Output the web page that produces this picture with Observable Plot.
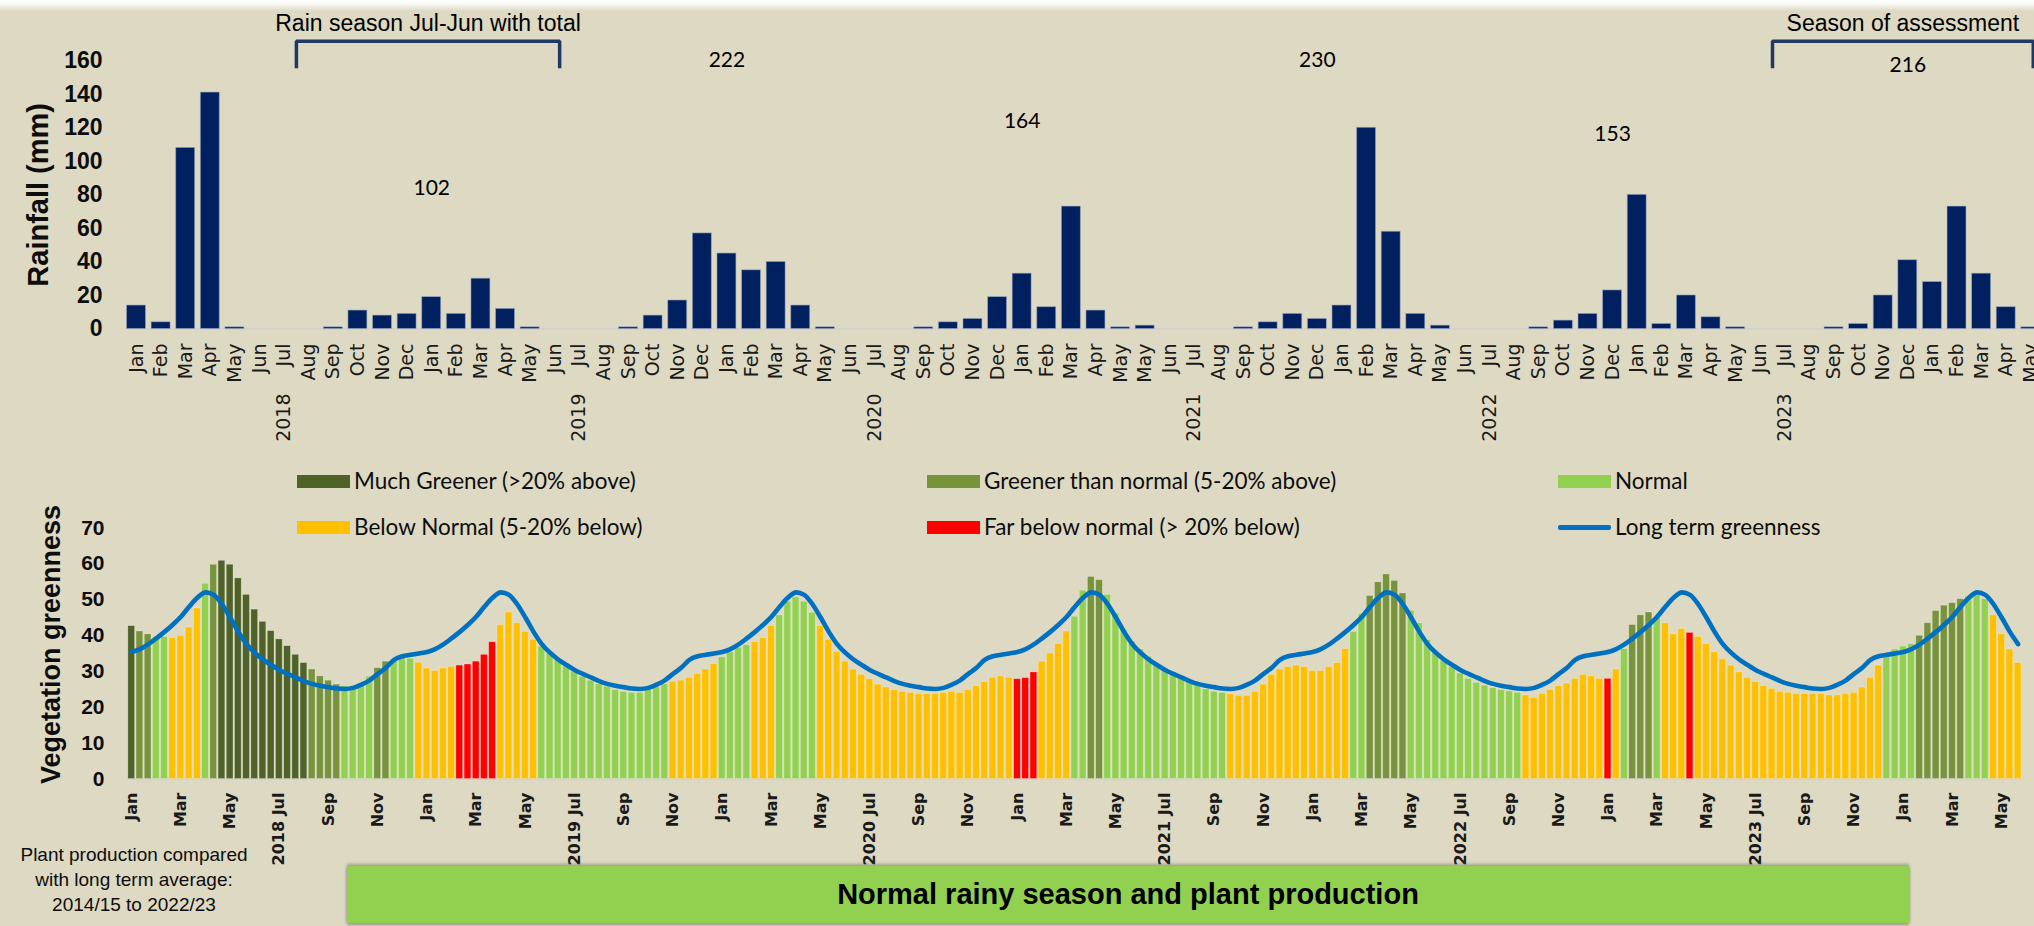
<!DOCTYPE html>
<html><head><meta charset="utf-8">
<script src="https://cdn.jsdelivr.net/npm/d3@7"></script>
<script src="https://cdn.jsdelivr.net/npm/@observablehq/plot@0.6"></script>
<style>
html,body{margin:0;padding:0;background:#ddd9c3;}
#page{position:relative;width:2034px;height:926px;background:#ddd9c3;overflow:hidden;font-family:"Liberation Sans",Arial,sans-serif;color:#0d0d0d;}
#topband{position:absolute;left:0;top:0;width:2034px;height:11px;background:linear-gradient(#ffffff 0px,#f6f5ef 5px,#ddd9c3 11px);}
#rain,#green{position:absolute;left:0;}
#rain{top:0;} #green{top:440px;}
.leg{position:absolute;font-family:Lato,"Noto Sans",sans-serif;font-size:22.5px;line-height:26px;white-space:nowrap;}
.sw{position:absolute;}
#note{position:absolute;left:0;top:842px;width:268px;text-align:center;font-size:19px;line-height:25px;}
#banner{position:absolute;left:347px;top:866px;width:1562px;height:57px;background:#92d050;box-shadow:0 -2px 3px rgba(90,90,90,0.45),0 2px 3px rgba(90,90,90,0.5);display:flex;align-items:center;justify-content:center;font-weight:bold;font-size:29px;color:#000;}
</style></head>
<body><div id="page"><div id="topband"></div><div id="rain"></div><div id="green"></div>
<div id="legend"></div>
<div id="note">Plant production compared<br>with long term average:<br>2014/15 to 2022/23</div>
<div id="banner">Normal rainy season and plant production</div>
</div>
<script>
// ---------- DATA ----------
const monthNames = ["Jan","Feb","Mar","Apr","May","Jun","Jul","Aug","Sep","Oct","Nov","Dec"];
const startYear = 2018;

// Monthly rainfall categories (as labelled on the axis, incl. the repeated May in 2021)
const rainMonths = [
 "Jan","Feb","Mar","Apr","May","Jun","Jul","Aug","Sep","Oct","Nov","Dec",
 "Jan","Feb","Mar","Apr","May","Jun","Jul","Aug","Sep","Oct","Nov","Dec",
 "Jan","Feb","Mar","Apr","May","Jun","Jul","Aug","Sep","Oct","Nov","Dec",
 "Jan","Feb","Mar","Apr","May","May","Jun","Jul","Aug","Sep","Oct","Nov","Dec",
 "Jan","Feb","Mar","Apr","May","Jun","Jul","Aug","Sep","Oct","Nov","Dec",
 "Jan","Feb","Mar","Apr","May","Jun","Jul","Aug","Sep","Oct","Nov","Dec",
 "Jan","Feb","Mar","Apr","May"];
const rainfall = [
 14,4,108,141,1,0,0,0,1,11,8,9,
 19,9,30,12,1,0,0,0,1,8,17,57,
 45,35,40,14,1,0,0,0,1,4,6,19,
 33,13,73,11,1,2,0,0,0,1,4,9,6,
 14,120,58,9,2,0,0,0,1,5,9,23,
 80,3,20,7,1,0,0,0,1,3,20,41,
 28,73,33,13,1];
const rainYears = ["2018","2019","2020","2021","2022","2023"];
const seasonTotals = [102,222,164,230,153,216];
const seasonLabelAt = [12,24,36,48,60,72];      // category index of each total label
const seasonLabelY = [84,160,124,160,116,157];  // label height in mm units
const brackets = [
 {label:"Rain season Jul-Jun with total", from:6.5, to:17.2},
 {label:"Season of assessment", from:66.5, to:77.1}];
const rainTicks = [0,20,40,60,80,100,120,140,160];

// Dekadal vegetation greenness, Jan 2018 dekad 1 .. May 2024 dekad 3
const greenness = [
 42.6,41.1,40.3,39.6,39.6,39.2,39.9,42.2,47.5,54.4,59.7,60.8,59.7,55.9,51.3,47.2,43.8,41.2,38.9,37.0,34.6,32.3,30.5,28.6,27.4,26.3,25.9,25.9,26.6,28.5,30.9,32.7,33.4,34.4,33.5,32.4,
 30.8,30.1,30.8,31.2,31.6,31.9,32.7,34.6,38.1,42.9,46.4,43.4,41.0,38.8,36.9,35.0,33.1,31.3,29.9,28.5,27.4,26.4,25.7,24.8,24.3,24.0,24.0,24.8,25.6,26.4,27.1,27.4,28.2,29.2,30.5,32.0,
 33.9,35.3,36.6,37.3,38.1,39.2,42.6,45.6,49.4,50.6,49.4,46.3,42.6,38.8,35.4,32.7,30.5,29.0,27.8,26.3,25.5,24.8,24.3,24.0,23.7,23.7,23.7,24.0,24.3,24.0,24.8,25.9,27.0,28.2,28.6,28.2,
 27.8,28.1,29.7,32.7,35.0,37.6,41.1,45.2,52.5,56.3,55.4,51.3,46.1,41.5,38.3,36.1,34.1,32.0,30.8,29.6,28.5,27.1,26.0,25.0,24.3,24.0,23.6,23.2,23.2,24.3,26.3,29.0,30.5,31.2,31.6,31.2,
 30.1,30.1,31.2,32.3,36.2,41.0,46.0,51.0,54.8,57.0,55.2,51.7,46.9,43.4,38.7,35.4,33.0,31.1,29.4,27.9,26.8,26.0,25.3,24.8,24.4,24.0,23.3,22.6,23.7,24.8,25.9,26.6,27.9,29.0,28.6,27.9,
 27.9,30.5,36.2,42.9,45.6,46.4,44.8,43.4,40.3,41.8,40.7,39.6,37.6,35.3,33.4,31.6,29.7,28.2,27.0,25.9,25.1,24.3,24.0,23.7,23.7,23.7,23.7,23.3,23.3,23.7,24.0,25.5,28.2,31.6,34.4,36.1,
 36.9,37.6,39.9,43.4,46.8,48.3,49.0,50.1,50.8,51.3,50.1,45.6,40.3,36.1,32.3];
// MG much greener, G greener, N normal, B below normal, F far below normal
const greennessClass = [
 "MG","G","G","N","N","B","B","B","B","N","G","MG","MG","MG","MG","MG","MG","MG","MG","MG","MG","MG","G","G","G","G","N","N","N","N","G","G","N","N","N","B",
 "B","B","B","B","F","F","F","F","F","B","B","B","B","B","N","N","N","N","N","N","N","N","N","N","N","N","N","N","N","N","B","B","B","B","B","B",
 "N","N","N","N","B","B","B","N","N","N","N","N","B","B","B","B","B","B","B","B","B","B","B","B","B","B","B","B","B","B","B","B","B","B","B","B",
 "F","F","F","B","B","B","B","N","N","G","G","N","N","N","N","N","N","N","N","N","N","N","N","N","N","N","B","B","B","B","B","B","B","B","B","B",
 "B","B","B","B","B","N","N","G","G","G","G","G","N","N","N","N","N","N","N","N","N","N","N","N","N","N","B","B","B","B","B","B","B","B","B","B",
 "F","B","N","G","G","G","N","B","B","B","F","B","B","B","B","B","B","B","B","B","B","B","B","B","B","B","B","B","B","B","B","B","B","B","N","N",
 "N","N","G","G","G","G","G","G","N","N","N","B","B","B","B"];
// Long term greenness per dekad of the year (Jan d1 .. Dec d3)
const ltaDekads = [35.4,36.2,37.5,39.2,41.0,43.0,45.2,48.0,50.5,52.0,51.3,48.7,45.0,41.0,37.6,35.2,33.3,31.8,
 30.4,29.3,28.3,27.3,26.5,26.0,25.6,25.2,25.1,25.4,26.3,27.5,29.3,31.0,33.2,34.2,34.6,35.0];
const greenTicks = [0,10,20,30,40,50,60,70];
const classKeys = ["MG","G","N","B","F"];
const classColors = ["#4f6228","#77933c","#92d050","#ffc000","#ff0000"];
const classLabels = ["Much Greener (>20% above)","Greener than normal (5-20% above)","Normal","Below Normal (5-20% below)","Far below normal (> 20% below)"];
const ltaLabel = "Long term greenness";
const ltaColor = "#0070c0";

// ---------- TOP: RAINFALL ----------
const rainData = rainfall.map((v,i)=>({i, v, m: rainMonths[i]}));
const julIdx = rainMonths.map((m,i)=> m==="Jul" ? i : -1).filter(i=>i>=0);
const yearData = rainYears.map((y,k)=>({i: julIdx[k], y}));
const seasonData = seasonTotals.map((t,k)=>({i: seasonLabelAt[k], y: seasonLabelY[k], t}));
const bracketPaths = brackets.map(b => [
 {x:b.from,y:155.5},{x:b.from,y:171.6},{x:b.to,y:171.6},{x:b.to,y:155.5}]);

const arial = "Liberation Sans, Arial, sans-serif";
const rainPlot = Plot.plot({
 width:2034, height:440,
 marginLeft:125, marginRight:0, marginTop:60.2, marginBottom:111.5,
 style:{background:"transparent", overflow:"visible", fontFamily:arial},
 x:{type:"linear", domain:[-0.447,77.15], axis:null},
 y:{domain:[0,160], axis:null},
 marks:[
  Plot.ruleY([0],{stroke:"#d2d2d2", strokeWidth:2}),
  Plot.rectY(rainData,{x1:d=>d.i-0.385, x2:d=>d.i+0.385, y1:0, y2:"v", fill:"#002060", stroke:"#9aa6c2", strokeWidth:0.8, strokeOpacity:0.7}),
  Plot.text(rainTicks,{y:d=>d, frameAnchor:"left", dx:-23, textAnchor:"end", text:d=>String(d), fontSize:23, fontWeight:"bold", fill:"#0d0d0d"}),
  Plot.text(["Rainfall (mm)"],{frameAnchor:"left", dx:-87, rotate:-90, textAnchor:"middle", lineAnchor:"middle", text:d=>d, fontSize:29, fontWeight:"bold", fill:"#0d0d0d"}),
  Plot.text(rainData,{x:"i", frameAnchor:"bottom", dy:14.5, text:"m", rotate:-90, textAnchor:"end", lineAnchor:"middle", fontSize:19, fontFamily:"DejaVu Sans, Verdana, sans-serif", fill:"#1a1a1a"}),
  Plot.text(yearData,{x:"i", frameAnchor:"bottom", dy:64.5, text:"y", rotate:-90, textAnchor:"end", lineAnchor:"middle", fontSize:19, fontFamily:"DejaVu Sans, Verdana, sans-serif", fill:"#1a1a1a"}),
  Plot.text(seasonData,{x:"i", y:"y", text:d=>String(d.t), fontSize:21, fontFamily:"Lato, sans-serif", fill:"#000"}),
  ...bracketPaths.map(p => Plot.line(p,{x:"x", y:"y", stroke:"#1f3864", strokeWidth:3.5, strokeLinejoin:"miter", strokeLinecap:"butt"})),
  Plot.text(brackets,{x:d=>(d.from+d.to)/2, y:182, text:"label", fontSize:23, fill:"#000"})
 ]
});
document.getElementById("rain").appendChild(rainPlot);

// ---------- BOTTOM: GREENNESS ----------
const gData = greenness.map((v,i)=>({i, v, c: greennessClass[i]}));
const ltaData = greenness.map((_,i)=>({i, v: ltaDekads[i % 36]}));
const tickIdx = d3.range(0, greenness.length, 6).map(i => {
  const m = Math.floor(i/3) % 12, y = startYear + Math.floor(i/36);
  return {i, t: m === 6 ? `${y} ${monthNames[m]}` : monthNames[m]};
});
const greenPlot = Plot.plot({
 width:2034, height:426,
 marginLeft:126.7, marginRight:12.3, marginTop:87.3, marginBottom:87.5,
 style:{background:"transparent", overflow:"visible", fontFamily:arial},
 x:{type:"linear", domain:[-0.55,230.5], axis:null},
 y:{domain:[0,70], axis:null},
 color:{domain:classKeys, range:classColors},
 marks:[
  Plot.ruleY([0],{stroke:"#d2d2d2", strokeWidth:2}),
  Plot.rectY(gData,{x1:d=>d.i-0.41, x2:d=>d.i+0.41, y1:0, y2:"v", fill:"c", stroke:"#ffffff", strokeWidth:0.7, strokeOpacity:0.35}),
  Plot.line(ltaData,{x:"i", y:"v", stroke:ltaColor, strokeWidth:4.6, curve:"monotone-x"}),
  Plot.text(greenTicks,{y:d=>d, frameAnchor:"left", dx:-22.7, textAnchor:"end", text:d=>String(d), fontSize:21, fontWeight:"bold", fill:"#0d0d0d"}),
  Plot.text([{t:"Vegetation greenness", y:37.5}],{frameAnchor:"left", y:"y", dx:-75.7, rotate:-90, textAnchor:"middle", lineAnchor:"middle", text:"t", fontSize:27, fontWeight:"bold", fill:"#0d0d0d"}),
  Plot.text(tickIdx,{x:"i", frameAnchor:"bottom", dy:13.5, text:"t", rotate:-90, textAnchor:"end", lineAnchor:"middle", fontSize:16, fontWeight:"bold", fontFamily:"DejaVu Sans, Verdana, sans-serif", fill:"#1a1a1a"})
 ]
});
document.getElementById("green").appendChild(greenPlot);

// ---------- LEGEND ----------
const legend = document.getElementById("legend");
const colX = [297, 927, 1558], rowY = [481.7, 527.7];
const legItems = classLabels.map((l,k)=>({label:l, color:classColors[k], line:false}))
  .concat([{label:ltaLabel, color:ltaColor, line:true}]);
legItems.forEach((it,k)=>{
  const cx = colX[k%3], cy = rowY[Math.floor(k/3)];
  const sw = document.createElement("div");
  sw.className = "sw";
  if (it.line) {
    Object.assign(sw.style,{left:cx+"px", top:(cy-2.3)+"px", width:"53px", height:"4.6px", background:it.color, borderRadius:"2px"});
  } else {
    Object.assign(sw.style,{left:cx+"px", top:(cy-6.4)+"px", width:"53px", height:"12.8px", background:it.color});
  }
  legend.appendChild(sw);
  const tx = document.createElement("div");
  tx.className = "leg";
  tx.textContent = it.label;
  Object.assign(tx.style,{left:(cx+57)+"px", top:(cy-14)+"px"});
  legend.appendChild(tx);
});
</script>
</body></html>
